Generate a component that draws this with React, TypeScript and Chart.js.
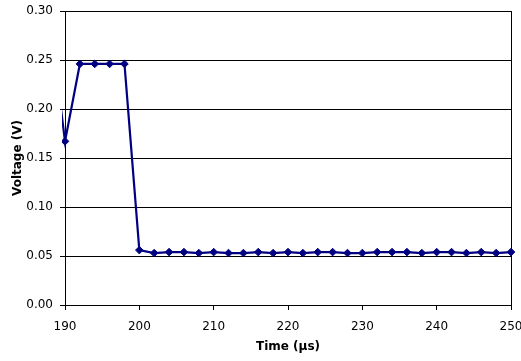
import React, { useEffect, useRef } from "react";
import { Chart, registerables } from "chart.js";

Chart.register(...registerables);

const times = [188, 190, 192, 194, 196, 198, 200, 202, 204, 206, 208, 210, 212, 214, 216, 218, 220, 222, 224, 226, 228, 230, 232, 234, 236, 238, 240, 242, 244, 246, 248, 250];
const voltages = [0.29, 0.167, 0.246, 0.246, 0.246, 0.246, 0.056, 0.053, 0.054, 0.054, 0.053, 0.054, 0.053, 0.053, 0.054, 0.053, 0.054, 0.053, 0.054, 0.054, 0.053, 0.053, 0.054, 0.054, 0.054, 0.053, 0.054, 0.054, 0.053, 0.054, 0.053, 0.054];
const xTitle = "Time (µs)";
const yTitle = "Voltage (V)";

export default function App() {
  const ref = useRef<HTMLCanvasElement | null>(null);
  useEffect(() => {
    document.body.style.margin = "0";
    const ctx = ref.current!;
    const chart = new Chart(ctx, {
      type: "line",
      data: {
        datasets: [
          {
            data: times.map((t, i) => ({ x: t, y: voltages[i] })),
            borderColor: "#000080",
            backgroundColor: "#000080",
            borderWidth: 2.2,
            pointStyle: "rectRot",
            pointRadius: 3.8,
            pointBorderWidth: 1,
            tension: 0,
            clip: { left: 3, right: 6, top: 6, bottom: 6 },
          },
        ],
      },
      options: {
        animation: false,
        responsive: false,
        maintainAspectRatio: false,
        layout: { padding: { top: 11, right: 10, left: 0, bottom: 0 } },
        plugins: { legend: { display: false }, tooltip: { enabled: false } },
        scales: {
          x: {
            type: "linear",
            min: 190,
            max: 250,
            ticks: { stepSize: 10, color: "#000", font: { family: "DejaVu Sans", size: 12 }, padding: 10 },
            grid: {
              color: (c: any) => (c.tick && c.tick.value === 250 ? "#000" : "rgba(0,0,0,0)"),
              tickColor: "#000",
              tickLength: 5,
              lineWidth: 1,
            },
            border: { color: "#000", width: 1 },
            title: { display: true, text: xTitle, color: "#000", font: { family: "DejaVu Sans", size: 12, weight: "bold" }, padding: { top: 0, bottom: 7 } },
            afterFit: (s: any) => { s.height = 56; s.paddingRight = 0; s.paddingLeft = 0; },
          },
          y: {
            min: 0,
            max: 0.3,
            ticks: { stepSize: 0.05, color: "#000", font: { family: "DejaVu Sans", size: 12 }, padding: 7, callback: (v: any) => Number(v).toFixed(2) },
            grid: { color: "#000", tickColor: "#000", tickLength: 5, lineWidth: 1 },
            border: { color: "#000", width: 1 },
            title: { display: true, text: yTitle, color: "#000", font: { family: "DejaVu Sans", size: 12, weight: "bold" }, padding: { top: 11, bottom: 0 } },
            afterFit: (s: any) => { s.width = 65; s.paddingTop = 0; },
          },
        },
      },
    });
    return () => chart.destroy();
  }, []);
  return (
    <div style={{ width: 521, height: 361, position: "relative", background: "#fff" }}>
      <canvas ref={ref} width={521} height={361} style={{ display: "block" }} />
    </div>
  );
}
